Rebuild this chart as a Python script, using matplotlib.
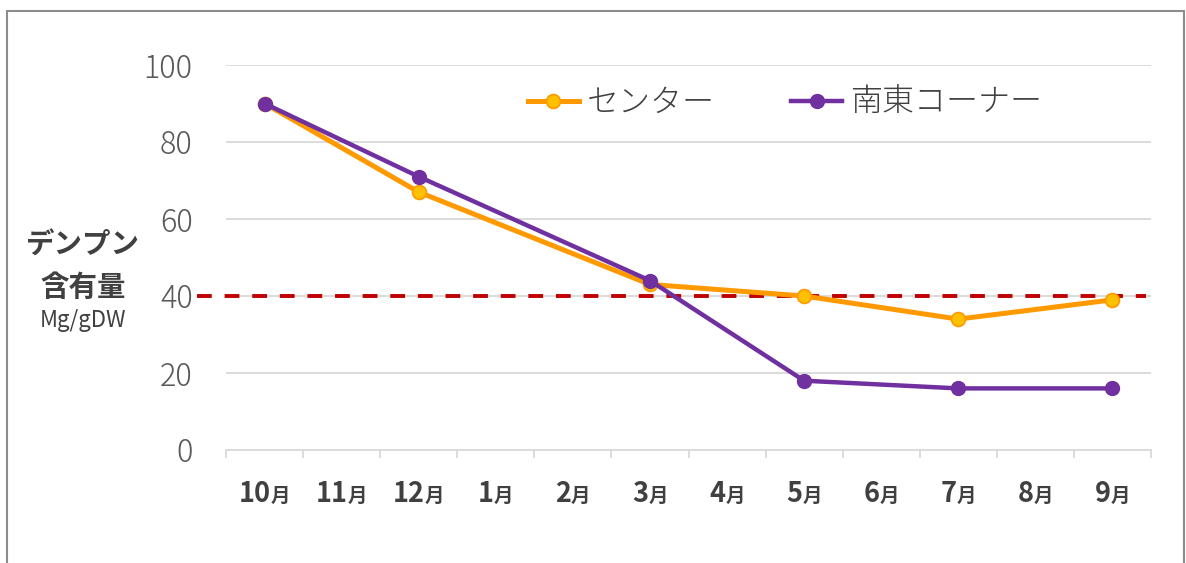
import matplotlib
matplotlib.use("Agg")
import matplotlib.pyplot as plt
import matplotlib.transforms as mtransforms
from matplotlib.patches import Rectangle
import numpy as np

plt.rcParams['font.family'] = ['Noto Sans CJK JP', 'DejaVu Sans']

# data
months = ['10', '11', '12', '1', '2', '3', '4', '5', '6', '7', '8', '9']
sample_idx = [0, 2, 5, 7, 9, 11]
center = [90, 67, 43, 40, 34, 39]
se_corner = [90, 71, 44, 18, 16, 16]
threshold = 40
yticks = [0, 20, 40, 60, 80, 100]

W, H = 1186, 563
fig = plt.figure(figsize=(W / 100, H / 100), dpi=100)
ax = fig.add_axes([226 / W, 1 - 450 / H, 925 / W, 385 / H])

ax.set_xlim(-0.5, len(months) - 0.5)
ax.set_ylim(0, 100)

# gridlines / axis
for y in yticks[1:]:
    ax.axhline(y, color='#d9d9d9', lw=1.3, zorder=0)
for s in ['left', 'right', 'top']:
    ax.spines[s].set_visible(False)
ax.spines['bottom'].set_color('#d9d9d9')
ax.spines['bottom'].set_linewidth(1.3)

ax.set_yticks(yticks)
ax.set_yticklabels([str(v) for v in yticks], fontsize=22, color='#595959',
                   fontweight='light')
ax.tick_params(axis='y', length=0, pad=24)

ax.set_xticks(np.arange(len(months)))
ax.set_xticklabels([])
ax.tick_params(axis='x', which='major', length=0)
ax.set_xticks(np.arange(-0.5, len(months)), minor=True)
ax.tick_params(axis='x', which='minor', length=6, width=1.3, color='#d9d9d9')

# threshold line
trans = mtransforms.blended_transform_factory(ax.transAxes, ax.transData)
ax.plot([-29 / 925, 920 / 925], [threshold, threshold], transform=trans,
        color='#c00000', lw=2.8, dashes=(3.8, 3.3), clip_on=False, zorder=2)

ax.plot(sample_idx, center, color='#ff9900', lw=3.6, marker='o', ms=10,
        mfc='#ffc000', mec='#ff9900', mew=1.2, label='センター', zorder=3)
ax.plot(sample_idx, se_corner, color='#7030a0', lw=3.2, marker='o', ms=10,
        mfc='#7030a0', mec='#7030a0', label='南東コーナー', zorder=4)

fig.legend(loc='center', bbox_to_anchor=(785 / W, 1 - 103 / H), ncol=2,
           frameon=False, handlelength=1.6, columnspacing=2.4,
           handletextpad=0.25, labelcolor='#404040',
           prop={'size': 23, 'weight': 'light'})

# month labels: big bold digit + smaller 月
fig.canvas.draw()
renderer = fig.canvas.get_renderer()
xt = mtransforms.blended_transform_factory(ax.transData, ax.transAxes)
for i, m in enumerate(months):
    t1 = ax.text(i, -0.135, m, transform=xt, ha='right', va='baseline',
                 fontsize=19.5, fontweight='bold', color='#404040')
    t2 = ax.text(i, -0.135, '月', transform=xt, ha='left', va='baseline',
                 fontsize=14, fontweight='bold', color='#404040')
    w1 = t1.get_window_extent(renderer).width
    w2 = t2.get_window_extent(renderer).width
    dx = (w1 - w2) / 2 * 72 / fig.dpi
    off = mtransforms.ScaledTranslation(dx / 72, 0, fig.dpi_scale_trans)
    t1.set_transform(xt + off)
    t2.set_transform(xt + off)

# y axis title
fig.text(83 / W, 1 - 245 / H, 'デンプン', ha='center', va='center',
         fontsize=20.5, fontweight='bold', color='#404040')
fig.text(83 / W, 1 - 288 / H, '含有量', ha='center', va='center',
         fontsize=20.5, fontweight='bold', color='#404040')
fig.text(83 / W, 1 - 321 / H, 'Mg/gDW', ha='center', va='center',
         fontsize=16, color='#404040')

# outer frame
fig.patches.append(Rectangle((7 / W, -0.05), 1177 / W, 1 - 11 / H + 0.05,
                             transform=fig.transFigure, fill=False,
                             edgecolor='#8c8c8c', lw=1.5))

fig.savefig('out.png', dpi=100)
